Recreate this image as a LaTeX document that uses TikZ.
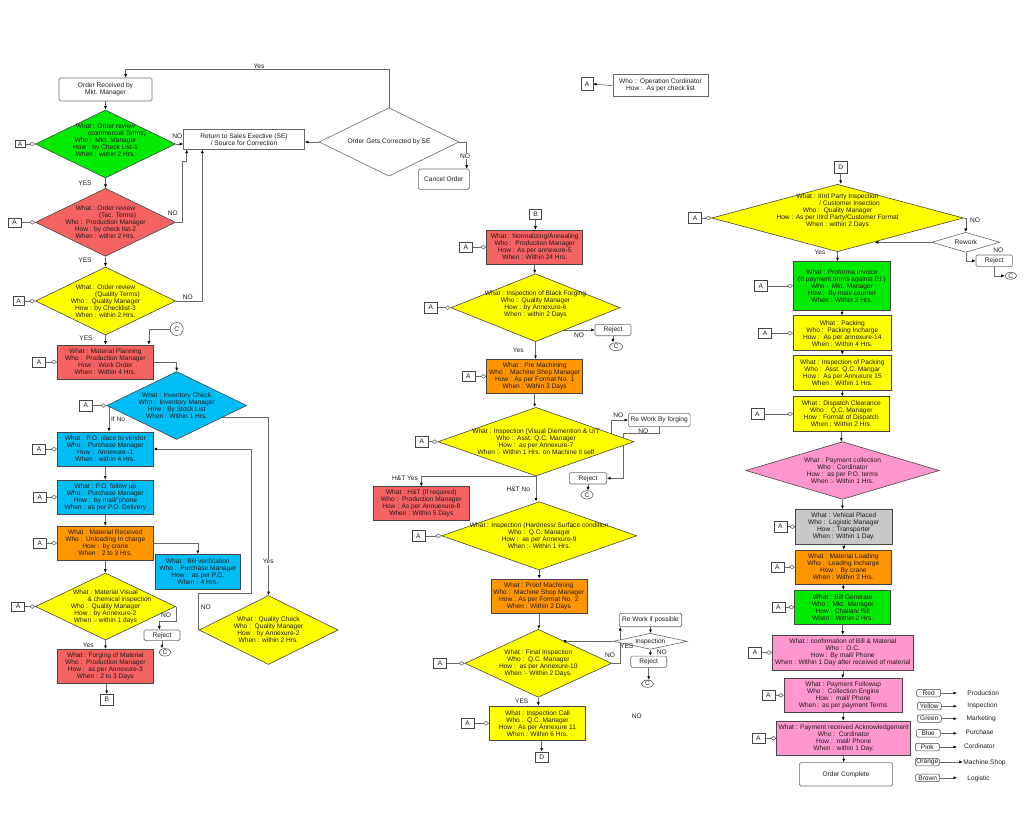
\documentclass[tikz,border=0pt]{standalone}
\usepackage{fontspec}
\setmainfont{Liberation Sans}
\usetikzlibrary{shapes.geometric,arrows.meta,backgrounds}
\definecolor{cgreen}{RGB}{0,235,0}
\definecolor{cred}{RGB}{245,98,98}
\definecolor{cyel}{RGB}{255,255,0}
\definecolor{cblue}{RGB}{0,190,245}
\definecolor{corange}{RGB}{255,150,0}
\definecolor{cpink}{RGB}{255,150,205}
\definecolor{cgray}{RGB}{200,200,200}
\definecolor{cline}{RGB}{105,105,105}
\definecolor{cedge}{RGB}{70,70,70}
\definecolor{ctext}{RGB}{35,25,25}
\begin{document}
\begin{tikzpicture}[x=1pt,y=-1pt,
  font=\fontsize{6.6}{7}\selectfont, text=ctext,
  pbox/.style={draw=cedge, line width=0.6pt, align=center, inner sep=0pt, minimum width=96, minimum height=34},
  wbox/.style={draw=cline, line width=0.6pt, align=center, inner sep=1pt, fill=white, rounded corners=1.5pt},
  dia/.style={diamond, draw=cedge, line width=0.6pt, inner sep=0pt},
  dtext/.style={align=center, inner sep=0pt},
  abox/.style={draw=cedge, line width=0.5pt, minimum width=13, minimum height=10.5, inner sep=0pt, fill=white},
  cnode/.style={ellipse, draw=cedge, line width=0.5pt, inner sep=0pt, minimum width=12, minimum height=7.5, fill=white},
  conn/.style={draw=cline, line width=0.6pt, -{Latex[length=3.5pt,width=3pt,color=black]}},
  aconn/.style={draw=cline, line width=0.6pt, -{Diamond[open,length=6pt,width=4.5pt]}},
  lab/.style={inner sep=0.5pt},
  wlab/.style={inner sep=0.5pt, fill=white},
  lgbox/.style={draw=cedge, line width=0.5pt, rounded corners=1.5pt, minimum width=24, minimum height=7.5, inner sep=0pt, fill=white},
]
\useasboundingbox (0,0) rectangle (1024,834);
% ================= LEFT COLUMN =================
\node[wbox, minimum width=93, minimum height=23] (orec) at (105.5,89.5) {Order Received by\\Mkt. Manager};
\node[dia, fill=cgreen, minimum width=140, minimum height=68] (d1) at (105.5,144) {};
\node[dtext] at ([yshift=3.5pt]d1.center) {What : Order review\\\hspace*{23pt}(commercial Terms)\\Who :\ \ Mkt. Manager\\How : by Check List-1\\When : within 2 Hrs.};
\node[abox, minimum width=10, minimum height=7] (a1) at (20,144) {A};
\node[pbox, fill=white, draw=cline, minimum width=121, minimum height=19.6] (ret) at (244,139.5) {Return to Sales Exective (SE)\\/ Source for Correction};
\node[dia, fill=white, draw=cline, minimum width=140, minimum height=68.3] (ogc) at (389,142) {};
\node[dtext] at (ogc.center) {Order Gets Corrected by SE};
\node[wbox, minimum width=51, minimum height=20.3] (cancel) at (443.8,179.2) {Cancel Order};
\node[dia, fill=cred, minimum width=140, minimum height=68] (d2) at (105.5,222.3) {};
\node[dtext] at (d2.center) {What : Order review\\\hspace*{24pt}(Tec. Terms)\\Who :\ \ Production Manager\\How : by check list-2\\When : within 2 Hrs.};
\node[abox, minimum width=13.5, minimum height=9] (a2) at (14.5,222.3) {A};
\node[dia, fill=cyel, minimum width=140, minimum height=68] (d3) at (105.5,301) {};
\node[dtext] at (d3.center) {What : Order review\\\hspace*{24pt}(Quality Terms)\\Who :\ \ Quality Manager\\How : by Checklist-3\\When : within 2 Hrs.};
\node[abox, minimum width=11, minimum height=9] (a3) at (18.7,301) {A};
\node[pbox, fill=cred] (mp) at (105.3,362) {What : Material Planning\\Who :\ \ Production Manager\\How :\ \ Work Order\\When : Within 4 Hrs.};
\node[abox] (a4) at (39,362) {A};
\node[circle, draw=cedge, line width=0.5pt, minimum size=13, inner sep=0pt, fill=white] (c1) at (176.7,329) {C};
\node[dia, fill=cblue, minimum width=140, minimum height=68] (inv) at (176.7,405.5) {};
\node[dtext] at (inv.center) {What : Inventory Check\\Who :\ \ Inventory Manager\\How : By Stock List\\When : Within 1 Hrs.};
\node[abox] (a5) at (85.7,405.5) {A};
\node[pbox, fill=cblue] (po) at (105.3,449) {What : P.O. place to vendor\\Who :\ \ Purchase Manager\\How :\ \ Annexure -1\\When : within 4 Hrs.};
\node[abox] (a6) at (39.2,449) {A};
\node[pbox, fill=cblue] (pof) at (105.3,497) {What : P.O. follow up\\Who :\ \ Purchase Manager\\How :\ \ by mail/ phone\\When : as per P.O. Delivery};
\node[abox] (a7) at (39.8,497) {A};
\node[pbox, fill=corange] (mr) at (105.3,543) {What : Material Received\\Who :\ \ Unloading In charge\\How :\ \ by crane\\When : 2 to 3 Hrs.};
\node[abox] (a8) at (39.8,543) {A};
\node[pbox, fill=cblue, minimum width=85.7, minimum height=34.7] (bill) at (197.8,571.7) {What : Bill verification\\Who :\ \ Purchase Manager\\How :\ \ as per P.O.\\When : 4 Hrs.};
\node[dia, fill=cyel, minimum width=140, minimum height=67] (mvi) at (105.5,606.5) {};
\node[dtext] at (mvi.center) {What : Material Visual\\\hspace*{28pt}\& chemical inspection\\Who :\ \ Quality Manager\\How : by Annexure-2\\When :- within 1 days};
\node[abox, minimum width=12.6, minimum height=9.4] (a9) at (18,606.5) {A};
\node[wbox, minimum width=36, minimum height=10.7, inner sep=0pt] (rej1) at (162,635.3) {Reject};
\node[cnode] (c2) at (165,652.3) {C};
\node[pbox, fill=cred] (forg) at (105.3,666.3) {What : Forging of Material\\Who :\ \ Production Manager\\How :\ \ as per Annexure-3\\When : 2 to 3 Days};
\node[abox] (b1) at (106.7,699.5) {B};
\node[dia, fill=cyel, minimum width=139, minimum height=69] (qc) at (268.5,630) {};
\node[dtext] at (qc.center) {What : Quality Check\\Who :\ \ Quality Manager\\How : by Annexure-2\\When : within 2 Hrs.};
% ================= MIDDLE COLUMN =================
\node[abox, minimum width=12.4, minimum height=10] (b2) at (535.5,214.3) {B};
\node[pbox, fill=cred] (norm) at (534.7,247) {What : Normalizing/Annealing\\Who :\ \ Production Manager\\How : As per annexure-5\\When : Within 24 Hrs.};
\node[abox] (a10) at (465.7,247) {A};
\node[dia, fill=cyel, minimum width=169, minimum height=68] (bf) at (535.5,307.7) {};
\node[dtext] at ([yshift=3pt]bf.center) {What : Inspection of Black Forging\\Who :\ \ Quality Manager\\How : by Annexure-6\\When : within 2 Days};
\node[abox] (a11) at (430.7,307.7) {A};
\node[wbox, minimum width=36, minimum height=11.4, inner sep=0pt] (rej2) at (613,330) {Reject};
\node[cnode, minimum width=13, minimum height=8] (c3) at (616,346.7) {C};
\node[pbox, fill=corange] (pm) at (534.7,376.3) {What : Pre Machining\\Who :\ \ Machine Shop Manager\\How : As per Format No. 1\\When : Within 3 Days};
\node[abox] (a12) at (468.3,376.3) {A};
\node[dia, fill=cyel, minimum width=196, minimum height=68.7] (vis) at (536,441.7) {};
\node[dtext] at (vis.center) {What : Inspection (Visual Diemention \& U/T\\Who :\ \ Asst. Q.C. Manager\\How :\ \ as per Annexure-7\\When :- Within 1 Hrs. on Machine it self};
\node[abox] (a13) at (421.7,441.7) {A};
\node[wbox, minimum width=61.7, minimum height=13.3, inner sep=0pt] (rw1) at (659.2,420) {Re Work By forging};
\node[wbox, minimum width=37.4, minimum height=11.3, inner sep=0pt] (rej3) at (588,478.3) {Reject};
\node[cnode, minimum width=12.6, minimum height=8.3] (c4) at (587,494.8) {C};
\node[pbox, fill=cred] (ht) at (421.3,503.7) {What : H\&T (If required)\\Who :\ \ Production Manager\\How : As per Annuexure-8\\When : Within 5 Days};
\node[dia, fill=cyel, minimum width=195, minimum height=68.3] (hard) at (539.2,535.8) {};
\node[dtext] at (hard.center) {What : Inspection (Hardness/ Surface condition\\Who :\ \ Q.C. Manager\\How :\ \ as per Annexure-9\\When :- Within 1 Hrs.};
\node[abox] (a14) at (418.3,535.8) {A};
\node[pbox, fill=corange] (proof) at (538.8,596) {What : Proof Machining\\Who :\ \ Machine Shop Manager\\How : As per Format No. 2\\When : Within 2 Days};
\node[dia, fill=cyel, minimum width=146.7, minimum height=68] (fin) at (538.3,663.3) {};
\node[dtext] at (fin.center) {What : Final Inspection\\Who :\ \ Q.C. Manager\\How :\ \ as per Annexure-10\\When :- Within 2 Days.};
\node[abox] (a15) at (440,663.3) {A};
\node[wbox, minimum width=62.4, minimum height=13.4, inner sep=0pt] (rw2) at (650.5,620) {Re Work if possible};
\node[dia, fill=white, draw=cline, minimum width=74, minimum height=16] (insp) at (650.3,641.3) {};
\node[dtext] at (insp.center) {Inspection};
\node[wbox, minimum width=36, minimum height=11.3, inner sep=0pt] (rej4) at (648.7,661.7) {Reject};
\node[cnode, minimum width=12, minimum height=7.3] (c5) at (647.5,683.7) {C};
\node[pbox, fill=cyel, minimum width=96.3, minimum height=34.7] (call) at (537.5,723.3) {What : Inspection Call\\Who :\ \ Q.C. Manager\\How : As per Annexure 11\\When : Within 6 Hrs.};
\node[abox] (a16) at (467.5,723.3) {A};
\node[abox] (dd1) at (541.7,757) {D};
% ================= RIGHT COLUMN =================
\node[abox, minimum height=11.6] (dd2) at (840.7,167.5) {D};
\node[dia, fill=cyel, minimum width=251.7, minimum height=67.4] (tp) at (837.5,218) {};
\node[dtext] at ([yshift=7pt]tp.center) {What : IIIrd Party Inspection\\\hspace*{24pt}/ Customer Insection\\Who :\ \ Quality Manager\\How : As per IIIrd Party/Customer Format\\When : within 2 Days};
\node[abox] (a17) at (695,218) {A};
\node[dia, fill=white, draw=cline, minimum width=68.3, minimum height=20] (rework) at (965.8,242.3) {};
\node[dtext] at (rework.center) {Rework};
\node[wbox, minimum width=36.7, minimum height=11.7, inner sep=0pt] (rej5) at (994.3,260.8) {Reject};
\node[cnode, minimum width=11.7, minimum height=7] (c6) at (1010.8,275.8) {C};
\node[pbox, fill=cgreen, minimum width=97.3, minimum height=48.3] (pi) at (842,285.8) {What : Proforma Invoice\\(If payment terms against P.I.)\\Who :\ \ Mkt. Manager\\How :\ \ By mail/ caurrier\\When : Within 2 Hrs.};
\node[abox] (a18) at (760.7,285.8) {A};
\node[pbox, fill=cyel, minimum width=98, minimum height=35] (pack) at (842.3,333.2) {What : Packing\\Who :\ \ Packing Incharge\\How :\ \ As per annexure-14\\When : Within 4 Hrs.};
\node[abox] (a19) at (765,333.2) {A};
\node[pbox, fill=cyel, minimum width=98, minimum height=35] (ipack) at (842.3,372.5) {What : Inspection of Packing\\Who :\ \ Asst. Q.C. Mangar\\How :\ \ As per Annuxure 15\\When : Within 1 Hrs.};
\node[pbox, fill=cyel, minimum height=34.3] (disp) at (841.3,413.8) {What : Dispatch Clearance\\Who :\ \ Q.C. Manager\\How : Format of Dispatch\\When : Within 2 Hrs.};
\node[abox] (a20) at (757.3,413.8) {A};
\node[dia, fill=cpink, minimum width=193.6, minimum height=57.6] (pay) at (842.5,470.5) {};
\node[dtext] at (pay.center) {What : Payment collection\\Who : Cordinator\\How :\ \ as per P.O. terms\\When :- Within 1 Hrs.};
\node[pbox, fill=cgray, minimum width=96.3, minimum height=34.7] (veh) at (843.8,526.7) {What : Vehical Placed\\Who :\ \ Logistic Manager\\How : Transporter\\When : Within 1 Day.};
\node[abox] (a21) at (780.3,526.7) {A};
\node[pbox, fill=corange] (load) at (843.3,567) {What : Material Loading\\Who :\ \ Loading Incharge\\How :\ \ By crane\\When : Within 2 Hrs.};
\node[abox] (a22) at (777.3,567) {A};
\node[pbox, fill=cgreen, minimum height=34.3] (billg) at (842.7,607.2) {What : Bill Generate\\Who :\ \ Mkt. Manager\\How : Challan/ Bill\\When : Within 2 Hrs.};
\node[abox] (a23) at (778.3,607.2) {A};
\node[pbox, fill=cpink, minimum width=141, minimum height=35] (conf) at (842.8,652.5) {What : confirmation of Bill \& Material\\Who :\ \ O.C.\\How : By mail/ Phone\\When : Within 1 Day after received of material};
\node[abox] (a24) at (755,652.5) {A};
\node[pbox, fill=cpink, minimum width=118.3, minimum height=34] (payf) at (843.2,695.3) {What : Payment Followup\\Who :\ \ Collection Engine\\How :\ \ mail/ Phone\\When : as per payment Terms};
\node[abox] (a25) at (768.3,695.3) {A};
\node[pbox, fill=cpink, minimum width=134, minimum height=34.7] (payr) at (843.7,738.3) {What : Payment received Acknowledgement\\Who :\ \ Cordinator\\How :\ \ mail/ Phone\\When : within 1 Day.};
\node[abox] (a26) at (758.3,738.3) {A};
\node[wbox, minimum width=93.3, minimum height=23.3] (done) at (846,774.3) {Order Complete};
% ================= LEGENDS =================
\node[abox, minimum width=11.5, minimum height=13] (aleg) at (587,84) {A};
\node[pbox, fill=white, draw=cline, minimum width=95, minimum height=22] (legbox) at (660.5,85.7) {Who :\ \ Operation Cordinator\\How :\ \ As per check list};
\coordinate (legtip) at (957,700);
\node[lgbox] (lred) at (928.7,693) {Red};
\node[lgbox] (lyel) at (929.3,706.2) {Yellow};
\node[lgbox] (lgrn) at (929.3,718.7) {Green};
\node[lgbox] (lblu) at (928.3,733.3) {Blue};
\node[lgbox] (lpnk) at (927.3,747) {Pink};
\node[lgbox] (lorg) at (927.3,762) {Orange};
\node[lgbox] (lbrn) at (927.7,777.8) {Brown};
\node[lab, anchor=west] (tred) at (966.7,692.7) {Production};
\node[lab, anchor=west] (tyel) at (966.7,705.7) {Inspection};
\node[lab, anchor=west] (tgrn) at (966,718.3) {Marketing};
\node[lab, anchor=west] (tblu) at (965,732.3) {Purchase};
\node[lab, anchor=west] (tpnk) at (963.3,746) {Cordinator};
\node[lab, anchor=west] (torg) at (962.7,762.3) {Machine Shop};
\node[lab, anchor=west] (tbrn) at (966.7,779) {Logistic};
% ================= LABELS =================
\node[lab] at (259,66) {Yes};
\node[lab] at (177.3,136.3) {NO};
\node[lab] at (85,183.3) {YES};
\node[lab] at (172.7,213.3) {NO};
\node[lab] at (85,260.7) {YES};
\node[lab] at (187.7,297.7) {NO};
\node[lab] at (86,338.3) {YES};
\node[lab] at (118,419) {If No};
\node[lab] at (166,615) {NO};
\node[lab] at (88.3,645.7) {Yes};
\node[lab] at (205.7,607.7) {NO};
\node[lab] at (518.3,350.7) {Yes};
\node[lab] at (579,335.5) {NO};
\node[lab] at (618.3,415) {NO};
\node[lab] at (643.3,431) {NO};
\node[lab] at (405,478.5) {H\&T Yes};
\node[lab] at (518.3,489.3) {H\&T No};
\node[lab] at (610,655) {NO};
\node[lab] at (626.7,646.7) {YES};
\node[lab] at (661.7,652.3) {NO};
\node[lab] at (521.7,701.7) {YES};
\node[lab] at (636.7,716.7) {NO};
\node[lab] at (820,252.7) {Yes};
\node[lab] at (975,220.7) {NO};
\node[lab] at (998.3,250) {NO};
% ================= CONNECTORS =================
\begin{scope}[on background layer]
% left
\draw[conn] (orec.south) -- (d1.north);
\draw[conn] (d1.east) -- (d1.east -| ret.west);
\draw[conn] (d1.south) -- (d2.north);
\draw[conn] (d2.east) -- ++(6.7,0) -- ++(0,-61.3) -| ([xshift=-57.3pt]ret.south);
\draw[conn] (d2.south) -- (d3.north);
\draw[conn] (d3.east) -| ([xshift=-41.7pt]ret.south);
\draw[conn] (ogc.west) -- (ogc.west -| ret.east);
\draw[conn] (ogc.north) -- ++(0,-38) -| ([xshift=20.2pt]orec.north);
\draw[conn] (ogc.east) -| ([xshift=22.9pt]cancel.north);
\draw[conn] (d3.south) -- (d3.south |- mp.north);
\draw[conn] (c1.west) -| ([xshift=43.7pt]mp.north);
\draw[conn] (mp.east) -| (inv.north);
\draw[conn] ([xshift=2.6pt]inv.west) -- ([xshift=2.6pt]inv.west |- po.north);
\draw[conn] ([yshift=-12.2pt]inv.center) -| (qc.north);
\draw[conn] (po.south) -- (pof.north);
\draw[conn] (pof.south) -- (mr.north);
\draw[conn] (mr.south) -- (mr.south |- mvi.north);
\draw[conn] (mr.east) -| (bill.north);
\draw[conn] (mvi.south) -- (mvi.south |- forg.north);
\draw[conn] (mvi.east) -- ++(0,14.5) -| ([xshift=-2.7pt]rej1.north);
\draw[conn] (rej1.south) -- (rej1.south |- c2.north);
\draw[conn] (b1.north |- forg.south) -- (b1.north);
\draw[conn] (qc.west) -- ++(0,-36.7) -- ++(52.4,0) |- (po.east);
% middle
\draw[conn] (b2.south) -- (b2.south |- norm.north);
\draw[conn] (norm.south) -- (norm.south |- bf.north);
\draw[conn] (bf.south) -- (bf.south |- pm.north);
\draw[conn] (rej2.west -| bf.center) -- (rej2.west);
\draw[conn] (rej2.south) -- (rej2.south |- c3.north);
\draw[conn] (pm.south) -- (pm.south |- vis.north);
\draw[conn] ([shift={(-22.6,-6)}]vis.east) |- (rw1.west);
\draw[conn] (rw1.south) |- ++(-35.9,6.6) |- (rej3.east);
\draw[conn] (rej3.south) -- (rej3.south |- c4.north);
\draw[conn] (vis.south) -| (ht.north);
\draw[conn] (vis.south) -- (vis.south |- hard.north);
\draw[conn] (hard.south) -- (hard.south |- proof.north);
\draw[conn] (proof.south) -- (proof.south |- fin.north);
\draw[conn] (fin.east) -| ([xshift=1.2pt]rw2.south west);
\draw[conn] (rw2.south) -- (rw2.south |- insp.north);
\draw[conn] (insp.south) -- (insp.south |- rej4.north);
\draw[conn] (rej4.south) -- (rej4.south |- c5.north);
\draw[conn] (fin.south) -- (fin.south |- call.north);
\draw[conn] (dd1.north |- call.south) -- (dd1.north);
% right
\draw[conn] (dd2.south) -- (dd2.south |- tp.north);
\draw[conn] (tp.south) -- (tp.south |- pi.north);
\draw[conn] (tp.east) -| (rework.north);
\draw[conn] (rework.south) |- (rej5.west);
\draw[conn] (rej5.south) |- (c6.west);
\draw[conn] (pi.south) -- (pi.south |- pack.north);
\draw[conn] (pack.south) -- (pack.south |- ipack.north);
\draw[conn] (ipack.south) -- (ipack.south |- disp.north);
\draw[conn] (disp.south) -- (disp.south |- pay.north);
\draw[conn] (pay.south) -- (pay.south |- veh.north);
\draw[conn] (veh.south) -- (veh.south |- load.north);
\draw[conn] (load.south) -- (load.south |- billg.north);
\draw[conn] (billg.south) -- (billg.south |- conf.north);
\draw[conn] (conf.south) -- (conf.south |- payf.north);
\draw[conn] (payf.south) -- (payf.south |- payr.north);
\draw[conn] (payr.south) -- (payr.south |- done.north);
% A connectors
\draw[aconn] (a1.east) -- (d1.west);
\draw[aconn] (a2.east) -- (d2.west);
\draw[aconn] (a3.east) -- (d3.west);
\draw[aconn] (a4.east) -- (mp.west);
\draw[aconn] (a5.east) -- (inv.west);
\draw[aconn] (a6.east) -- (po.west);
\draw[aconn] (a7.east) -- (pof.west);
\draw[aconn] (a8.east) -- (mr.west);
\draw[aconn] (a9.east) -- (mvi.west);
\draw[aconn] (a10.east) -- (norm.west);
\draw[aconn] (a11.east) -- (bf.west);
\draw[aconn] (a12.east) -- (pm.west);
\draw[aconn] (a13.east) -- (vis.west);
\draw[aconn] (a14.east) -- (hard.west);
\draw[aconn] (a15.east) -- (fin.west);
\draw[aconn] (a16.east) -- (call.west);
\draw[aconn] (a17.east) -- (tp.west);
\draw[aconn] (a18.east) -- (pi.west);
\draw[aconn] (a19.east) -- (pack.west);
\draw[aconn] (a20.east) -- (disp.west);
\draw[aconn] (a21.east) -- (veh.west);
\draw[aconn] (a22.east) -- (load.west);
\draw[aconn] (a23.east) -- (billg.west);
\draw[aconn] (a24.east) -- (conf.west);
\draw[aconn] (a25.east) -- (payf.west);
\draw[aconn] (a26.east) -- (payr.west);
% legends
\draw[conn] (legbox.west) -- (aleg.east);
\draw[conn] (lred.east) -- (lred.east -| legtip);
\draw[conn] (lyel.east) -- (lyel.east -| legtip);
\draw[conn] (lgrn.east) -- (lgrn.east -| legtip);
\draw[conn] (lblu.east) -- (lblu.east -| legtip);
\draw[conn] (lpnk.east) -- (lpnk.east -| legtip);
\draw[conn] (lorg.east) -- (lorg.east -| torg.west);
\draw[conn] (lbrn.east) -- (lbrn.east -| legtip);
\end{scope}
% connectors drawn above shapes
\draw[conn] (insp.west) -| ([shift={(26.7,14.5)}]fin.north);
\draw[conn] (rework.west) -- ++(-56.6,0);
% labels sitting on lines
\node[wlab] at (268.3,561.7) {Yes};
\node[wlab] at (465,156) {NO};
\end{tikzpicture}
\end{document}
